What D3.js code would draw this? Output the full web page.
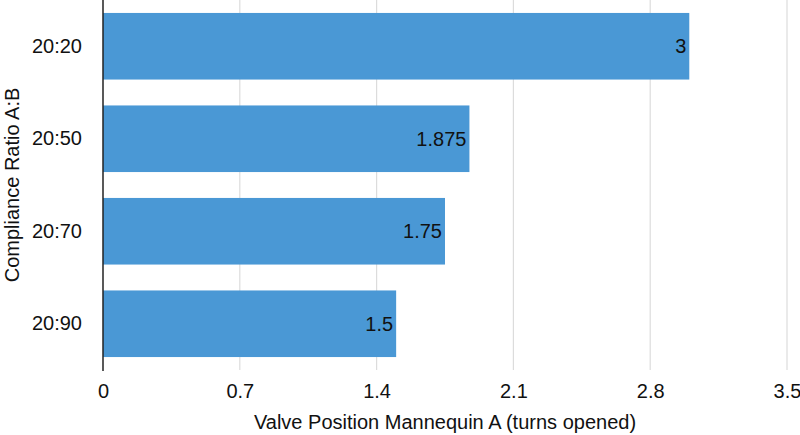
<!DOCTYPE html>
<html>
<head>
<meta charset="utf-8">
<script src="https://cdn.jsdelivr.net/npm/d3@7"></script>
<style>
  body { margin: 0; background: #fff; }
  svg text { font-family: "Liberation Sans", Arial, Helvetica, sans-serif; }
</style>
</head>
<body>
<div id="chart"></div>
<script>
// data
const categories = ["20:20", "20:50", "20:70", "20:90"];
const values = [3, 1.875, 1.75, 1.5];
const xTicks = [0, 0.7, 1.4, 2.1, 2.8, 3.5];
const xTitle = "Valve Position Mannequin A (turns opened)";
const yTitle = "Compliance Ratio A:B";

const width = 800, height = 435;
const margin = { top: 0, right: 13, bottom: 65, left: 103 };
const innerW = width - margin.left - margin.right;
const innerH = height - margin.top - margin.bottom;
const fs = "20px";

const svg = d3.select("#chart").append("svg")
  .attr("width", width)
  .attr("height", height);

const g = svg.append("g")
  .attr("transform", `translate(${margin.left},${margin.top})`);

const x = d3.scaleLinear().domain([0, 3.5]).range([0, innerW]);
const y = d3.scaleBand().domain(categories).range([0, innerH]).paddingInner(0.28).paddingOuter(0.14);

// grid lines
g.append("g")
  .selectAll("line")
  .data(xTicks.slice(1))
  .enter().append("line")
  .attr("x1", d => x(d)).attr("x2", d => x(d))
  .attr("y1", 0).attr("y2", innerH)
  .attr("stroke", "#dcdcdc")
  .attr("stroke-width", 1.2);

// bars
g.selectAll(".bar")
  .data(categories.map((c, i) => ({ cat: c, value: values[i] })))
  .enter().append("rect")
  .attr("x", 0)
  .attr("y", d => y(d.cat))
  .attr("width", d => x(d.value))
  .attr("height", y.bandwidth())
  .attr("fill", "#4a98d5");

// bar labels
g.selectAll(".bar-label")
  .data(categories.map((c, i) => ({ cat: c, value: values[i] })))
  .enter().append("text")
  .attr("x", d => x(d.value) - 3)
  .attr("y", d => y(d.cat) + y.bandwidth() / 2)
  .attr("dy", "0.36em")
  .attr("text-anchor", "end")
  .style("font-size", fs)
  .style("fill", "#111")
  .text(d => d.value);

// x axis labels
g.append("g")
  .attr("transform", `translate(0,${innerH})`)
  .call(d3.axisBottom(x).tickValues(xTicks).tickSize(0).tickPadding(14).tickFormat(d => d))
  .call(a => a.select(".domain").remove())
  .selectAll("text")
  .style("font-size", fs)
  .style("fill", "#111");

// y axis
g.append("g")
  .call(d3.axisLeft(y).tickSize(0).tickPadding(21))
  .call(a => a.select(".domain").remove())
  .selectAll("text")
  .style("font-size", fs)
  .style("fill", "#111");

// y axis line
g.append("line")
  .attr("x1", 0).attr("x2", 0)
  .attr("y1", 0).attr("y2", innerH + 1)
  .attr("stroke", "#222")
  .attr("stroke-width", 1.5);

// titles
svg.append("text")
  .attr("x", margin.left + innerW / 2)
  .attr("y", height - 6)
  .attr("text-anchor", "middle")
  .style("font-size", fs)
  .style("fill", "#111")
  .text(xTitle);

svg.append("text")
  .attr("transform", `translate(19,${margin.top + innerH / 2}) rotate(-90)`)
  .attr("text-anchor", "middle")
  .style("font-size", fs)
  .style("fill", "#111")
  .text(yTitle);
</script>
</body>
</html>
